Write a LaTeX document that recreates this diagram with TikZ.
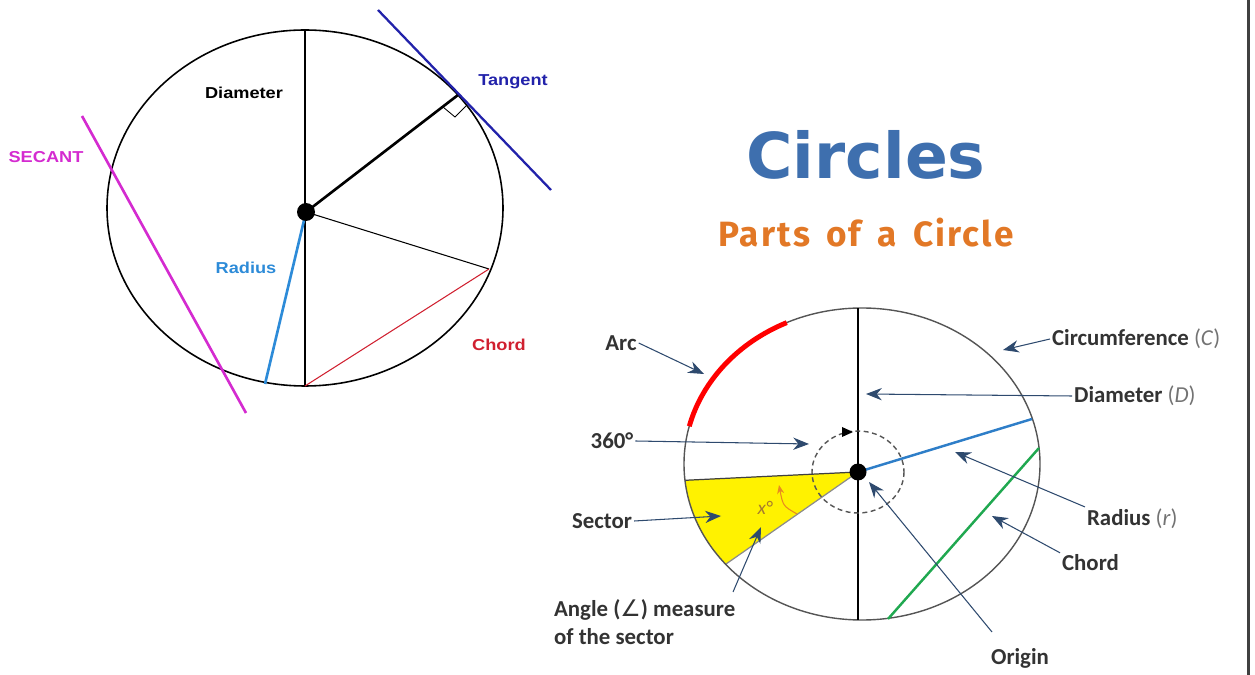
\documentclass[tikz,border=0pt]{standalone}
\usepackage{fontspec}
\setmainfont{Liberation Sans}
\newfontfamily\widefont[FakeStretch=1.15]{Liberation Sans}
\newfontfamily\calfont{Carlito}
\newfontfamily\headfont{DejaVu Sans}
\newfontfamily\subfont[LetterSpace=6]{Fira Sans}
\usetikzlibrary{calc, arrows.meta, positioning}
\definecolor{pointer}{HTML}{2E4A6E}
\definecolor{titleblue}{HTML}{3E6FAE}
\definecolor{subtitle}{HTML}{E27826}
\definecolor{secant}{HTML}{D42BD0}
\definecolor{tangent}{HTML}{2222AA}
\definecolor{radblue}{HTML}{2D8BD8}
\definecolor{radline}{HTML}{2E7EC8}
\definecolor{chordred}{HTML}{D02030}
\definecolor{chordgreen}{HTML}{20A850}
\definecolor{rim}{HTML}{555555}
\definecolor{anglemark}{HTML}{E88A20}
\definecolor{xtext}{HTML}{A67C2E}
\newcommand\partlet[1]{{\mdseries\color{black!55}(\textit{#1})}}

\begin{document}
\begin{tikzpicture}[x=0.02cm, y=-0.02cm,
    lbl/.style={font=\widefont\bfseries\fontsize{9}{11}\selectfont, text=#1, inner sep=1pt},
    tag/.style={font=\calfont\bfseries\fontsize{13}{16}\selectfont, text=black!80, inner sep=1pt},
    pointer/.style={-{Stealth[length=9pt, width=7pt]}, color=pointer, line width=0.6pt},
    dotnode/.style={circle, fill=black, inner sep=0pt, minimum size=#1}
]
\useasboundingbox (0,0) rectangle (1255,675);

% left circle: lines of a circle
\coordinate (lc) at (305,208);
\coordinate (lo) at (306,212);
\coordinate (ltop) at (305,30);
\coordinate (lbot) at (305,386);
\coordinate (touch) at (458,95);
\coordinate (chordend) at (489,269);
\coordinate (radend) at (265,384);
\coordinate (tanA) at (378,10);
\coordinate (tanB) at (551,190);
\coordinate (secA) at (82,116);
\coordinate (secB) at (246,413);
\draw[line width=0.9pt] (lc) ellipse [x radius=198, y radius=178];
\draw[line width=0.6pt] (ltop) -- (lbot);
\draw[line width=1.5pt] (lo) -- (touch);
\draw[line width=0.6pt] (lo) -- (chordend);
\draw[chordred, line width=0.6pt] (lbot) -- (chordend);
\draw[radblue, line width=1.5pt] (lo) -- (radend);
\draw[line width=0.5pt] (443,107) -- (455,117) -- (466,106);
\draw[tangent, line width=1.3pt] (tanA) -- (tanB);
\draw[secant, line width=1.5pt] (secA) -- (secB);
\node[dotnode=0.36cm] (ldot) at (lo) {};

\node[lbl=black] (diamword) at (244,93) {Diameter};
\node[lbl=tangent] (tanword) at (513,82) {Tangent};
\node[lbl=secant] (secword) at (46,157) {SECANT};
\node[lbl=radblue] (radword) at (246,268) {Radius};
\node[lbl=chordred] (chordword) at (499,345) {Chord};

% title
\node[font=\headfont\bfseries\fontsize{36}{40}\selectfont, text=titleblue] (title) at (866,155) {Circles};
\node[font=\subfont\bfseries\fontsize{20}{24}\selectfont, text=subtitle] (subtitle) at (866,233) {Parts\, of\, a\, Circle};

% right circle: parts of a circle
\coordinate (rc) at (862,464);
\coordinate (ro) at (858,472);
\coordinate (rtop) at (858,308);
\coordinate (rbot) at (858,620);
\fill[yellow] (ro) -- ($(rc)+(174:178 and 156)$) arc[start angle=174, end angle=140, x radius=178, y radius=156] -- cycle;
\draw[black!75, line width=0.7pt] (ro) -- ($(rc)+(174:178 and 156)$);
\draw[black!45, line width=0.7pt] (ro) -- ($(rc)+(140:178 and 156)$);
\draw[rim, line width=0.8pt] (rc) ellipse [x radius=178, y radius=156];
\draw[red, line width=2.8pt] ($(rc)+(194:178 and 156)$) arc[start angle=194, end angle=245, x radius=178, y radius=156];
\draw[line width=1.5pt] (rtop) -- (rbot);
\draw[rim, line width=0.8pt, dash pattern=on 2.8pt off 2pt] (ro) ellipse [x radius=46, y radius=41];
\fill (842,427) -- (853,432) -- (842,437) -- cycle;
\coordinate (radtip) at (1032,419);
\coordinate (chA) at (1039,448);
\coordinate (chB) at (888,619);
\draw[radline, line width=1.4pt] (ro) -- (radtip);
\draw[chordgreen, line width=1.4pt] (chA) -- (chB);
\draw[anglemark, line width=0.6pt, -{Stealth[length=5pt, width=4pt]}] (797,514) .. controls (783,506) .. (779,485);
\node[text=xtext, inner sep=0pt, font=\calfont\itshape\fontsize{11}{12}\selectfont] (xdeg) at (765,508) {x°};
\node[dotnode=0.34cm] (odot) at (ro) {};

% labels and pointers
\node[tag] (arclbl) at (621,343) {Arc};
\coordinate (arcpt) at (704,374);
\draw[pointer] (arclbl.east) -- (arcpt);

\node[tag] (fulllbl) at (612,441) {360°};
\coordinate (fullpt) at (809,444);
\draw[pointer] (fulllbl.east) -- (fullpt);

\node[tag] (sectorlbl) at (602,521) {Sector};
\coordinate (sectorpt) at (721,516);
\draw[pointer] (sectorlbl.east) -- (sectorpt);

\node[tag, align=left, anchor=west] (anglelbl) at (552,622) {Angle ({\headfont\mdseries ∠}) measure\\of the sector};
\coordinate (anglefrom) at (733,592);
\coordinate (anglept) at (761,527);
\draw[pointer] (anglefrom) -- (anglept);

\node[tag, anchor=west] (circlbl) at (1050,339) {Circumference \partlet{C}};
\coordinate (circpt) at (1003,350);
\draw[pointer] (circlbl.west) -- (circpt);

\node[tag, anchor=west] (diamlbl) at (1072,396) {Diameter \partlet{D}};
\coordinate (diampt) at (866,394);
\draw[pointer] (diamlbl.west) -- (diampt);

\node[tag, anchor=west] (radlbl) at (1085,519) {Radius \partlet{r}};
\coordinate (radpt) at (955,452);
\draw[pointer] (radlbl.north west) -- (radpt);

\node[tag, anchor=west] (chordlbl) at (1060,563) {Chord};
\coordinate (chordpt) at (992,516);
\draw[pointer] (chordlbl.north west) -- (chordpt);

\node[tag] (originlbl) at (1020,658) {Origin};
\coordinate (originfrom) at (992,632);
\coordinate (originpt) at (869,482);
\draw[pointer] (originfrom) -- (originpt);

% frame edge on the right
\draw[black!75, line width=1.7pt] (1248,0) -- (1248,675);
\end{tikzpicture}
\end{document}
